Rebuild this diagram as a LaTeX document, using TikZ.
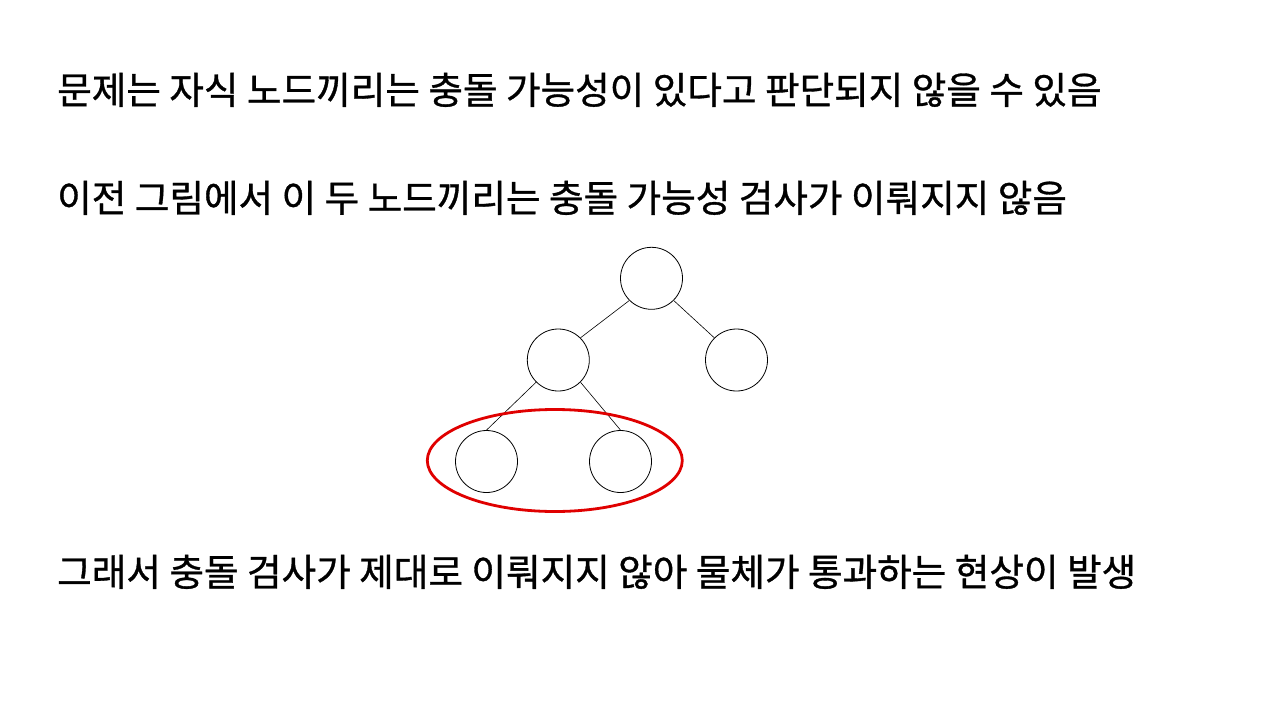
\documentclass[tikz,border=0pt]{standalone}
\usepackage{fontspec}
\usetikzlibrary{shapes.geometric}
\setmainfont[FakeBold=0.9]{Noto Sans CJK KR}
\definecolor{ovalred}{RGB}{224,0,0}
\begin{document}
\begin{tikzpicture}[x=1pt,y=-1pt,
  tnode/.style={circle,draw=black,line width=0.8pt,minimum size=62pt,inner sep=0pt},
  edge/.style={draw=black,line width=0.6pt},
  txt/.style={anchor=base west,inner sep=0pt,font=\fontsize{37.6}{42}\selectfont}]
\useasboundingbox[fill=white] (0,0) rectangle (1280,720);
\node[txt] (t1) at (57,104) {문제는 자식 노드끼리는 충돌 가능성이 있다고 판단되지 않을 수 있음};
\node[txt] (t2) at (57,212) {이전 그림에서 이 두 노드끼리는 충돌 가능성 검사가 이뤄지지 않음};
\node[txt] (t3) at (57,586) {그래서 충돌 검사가 제대로 이뤄지지 않아 물체가 통과하는 현상이 발생};
\node[tnode] (r) at (651.5,278.3) {};
\node[tnode] (m) at (558.3,360) {};
\node[tnode] (n) at (736.5,360) {};
\node[tnode] (a) at (486.5,461.5) {};
\node[tnode] (b) at (620.5,461.5) {};
\draw[edge] (r.south west) -- (m.north east);
\draw[edge] (r.south east) -- (n.north west);
\draw[edge] (m.south west) -- (a.north);
\draw[edge] (m.south east) -- (b.north);
\node[ellipse,draw=ovalred,line width=2.8pt,minimum width=255pt,minimum height=102pt,inner sep=0pt] (oval) at (554.8,460.5) {};
\end{tikzpicture}
\end{document}
